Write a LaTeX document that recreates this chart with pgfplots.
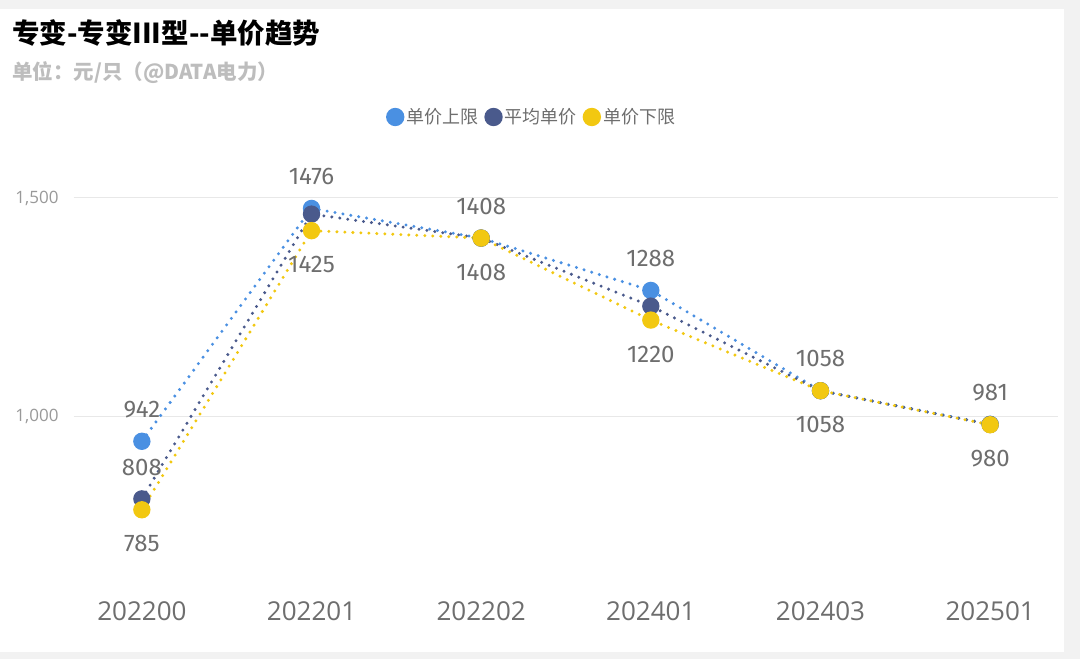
\documentclass[border=0pt]{standalone}
\usepackage{pgfplots}
\usepackage{pgfplotstable}
\pgfplotsset{compat=1.18}
\usepackage{fontspec}
\setmainfont{Noto Sans CJK SC}
\newfontfamily\tickfont{Open Sans}
\newfontfamily\labfont{Fira Sans}
\definecolor{cU}{HTML}{4A90E2}
\definecolor{cM}{HTML}{4A5A8C}
\definecolor{cL}{HTML}{F2C811}
\definecolor{txtgray}{HTML}{6E6E6E}
\definecolor{tickgray}{HTML}{999999}
\definecolor{gridgray}{HTML}{E8E8E8}
\definecolor{subgray}{HTML}{BDBDBD}
\definecolor{bggray}{HTML}{F2F2F2}

\pgfplotstableread{
x y lab
0 942 942
1 1476 1476
2 1408 1408
3 1288 1288
4 1058 1058
5 981 981
}\uptab
\pgfplotstableread{
x y lab
0 810 808
1 1463 {}
2 1408 {}
3 1252 {}
4 1058 {}
5 980.5 {}
}\meantab
\pgfplotstableread{
x y lab
0 785 785
1 1425 1425
2 1408 1408
3 1220 1220
4 1058 1058
5 980 980
}\lowtab

\begin{document}
\begin{tikzpicture}[x=1pt,y=1pt]
\fill[bggray] (0,0) rectangle (1080,659);
\fill[white] (0,7) rectangle (1064,650);
\node[anchor=west,font=\bfseries\fontsize{27.5}{27.5}\selectfont,text=black,inner sep=0] at (12,626) {专变-专变III型-{}-单价趋势};
\node[anchor=west,font=\bfseries\fontsize{20.5}{20.5}\selectfont,text=subgray,inner sep=0] at (12,586) {单位：元/只（@DATA电力）};
\begin{axis}[
  at={(74pt,69pt)}, anchor=south west,
  scale only axis, width=984pt, height=440pt,
  xmin=-0.4, xmax=5.4, ymin=601, ymax=1610,
  clip=false,
  axis line style={draw=none},
  major tick length=0pt,
  xtick={0,1,2,3,4,5},
  xticklabels={202200,202201,202202,202401,202403,202501},
  xticklabel style={font=\tickfont\fontsize{26}{26}\selectfont, text=txtgray, yshift=-8pt},
  ytick={1000,1500},
  yticklabels={{1,000},{1,500}},
  yticklabel style={font=\tickfont\fontsize{17}{17}\selectfont, text=tickgray, xshift=-12pt},
  ymajorgrids, grid style={gridgray, line width=1pt},
  legend columns=3,
  legend style={draw=none, fill=none, at={(0.465,1.075)}, anchor=center,
    font=\fontsize{18}{18}\selectfont, text=txtgray,
    /tikz/every even column/.append style={column sep=4pt}},
  legend image code/.code={\fill[solid] (0pt,0pt) circle (7.5pt);},
  every axis plot/.append style={line width=3.3pt, line cap=round, dash pattern=on 0pt off 8pt,
     mark=*, mark size=7pt},
  nodes near coords, point meta=explicit symbolic,
  nodes near coords style={font=\labfont\fontsize{24}{24}\selectfont, text=txtgray, anchor=center},
]
\addplot[color=cU, mark options={solid, fill=cU, draw=cU}, nodes near coords style={yshift=32pt}] table[x=x,y=y,meta=lab]{\uptab};
\addlegendentry{单价上限}
\addplot[color=cM, mark options={solid, fill=cM, draw=cM}, nodes near coords style={yshift=31pt}] table[x=x,y=y,meta=lab]{\meantab};
\addlegendentry{平均单价}
\addplot[color=cL, mark options={solid, fill=cL, draw=cL}, nodes near coords style={yshift=-34pt}] table[x=x,y=y,meta=lab]{\lowtab};
\addlegendentry{单价下限}
\end{axis}
\end{tikzpicture}
\end{document}
